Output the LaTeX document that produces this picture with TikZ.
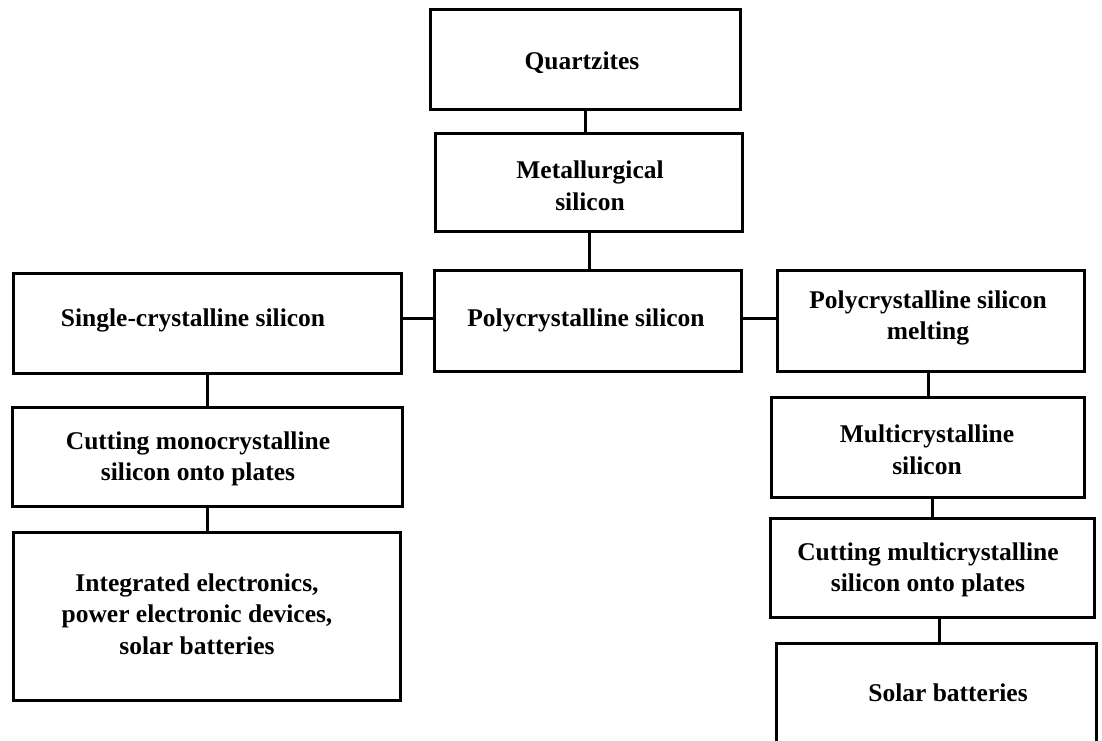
\documentclass[tikz,border=0pt]{standalone}
\usepackage{fontspec}
\setmainfont{Liberation Serif}
\begin{document}
\begin{tikzpicture}[x=1pt,y=-1pt,
  box/.style={draw=black,line width=3pt,inner sep=0pt,fill=white},
  lbl/.style={font=\fontsize{25.5}{31.5}\selectfont\bfseries,align=center,inner sep=0pt},
  conn/.style={draw=black,line width=3pt}]
\useasboundingbox (0,0) rectangle (1102,740);
% boxes
\node[box,minimum width=310pt,minimum height=100pt] (q) at (585,59) {};
\node[box,minimum width=307pt,minimum height=98pt] (m) at (589,182) {};
\node[box,minimum width=307pt,minimum height=101pt] (p) at (588,321) {};
\node[box,minimum width=388pt,minimum height=100pt] (s) at (207,323) {};
\node[box,minimum width=307pt,minimum height=101pt] (ml) at (931,321) {};
\node[box,minimum width=390pt,minimum height=99pt] (cm) at (207,457) {};
\node[box,minimum width=387pt,minimum height=168pt] (ie) at (207,616) {};
\node[box,minimum width=313pt,minimum height=100pt] (mc) at (928,447) {};
\node[box,minimum width=324pt,minimum height=99pt] (cx) at (932,568) {};
\node[box,minimum width=320pt,minimum height=104pt] (sb) at (936,695) {};
% labels
\node[lbl] (qt) at (582,63) {Quartzites};
\node[lbl] (mt) at (590,186) {Metallurgical\\silicon};
\node[lbl] (pt) at (586,320) {Polycrystalline silicon};
\node[lbl] (st) at (193,320) {Single-crystalline silicon};
\node[lbl] (mlt) at (928,318) {Polycrystalline silicon\\melting};
\node[lbl] (cmt) at (198,459) {Cutting monocrystalline\\silicon onto plates};
\node[lbl] (iet) at (197,614) {Integrated electronics,\\power electronic devices,\\solar batteries};
\node[lbl] (mct) at (927,450) {Multicrystalline\\silicon};
\node[lbl] (cxt) at (928,570) {Cutting multicrystalline\\silicon onto plates};
\node[lbl] (sbt) at (948,693) {Solar batteries};
% connectors
\draw[conn] (q.south) -- (q.south |- m.north);
\draw[conn] (m.south) -- (m.south |- p.north);
\draw[conn] ([yshift=3pt]p.west) -- ([yshift=3pt]p.west -| s.east);
\draw[conn] ([yshift=3pt]p.east) -- ([yshift=3pt]p.east -| ml.west);
\draw[conn] (s.south) -- (s.south |- cm.north);
\draw[conn] (cm.south) -- (cm.south |- ie.north);
\draw[conn] ([xshift=-3pt]ml.south) -- ([xshift=-3pt]ml.south |- mc.north);
\draw[conn] ([xshift=4pt]mc.south) -- ([xshift=4pt]mc.south |- cx.north);
\draw[conn] ([xshift=7pt]cx.south) -- ([xshift=7pt]cx.south |- sb.north);
\end{tikzpicture}
\end{document}
